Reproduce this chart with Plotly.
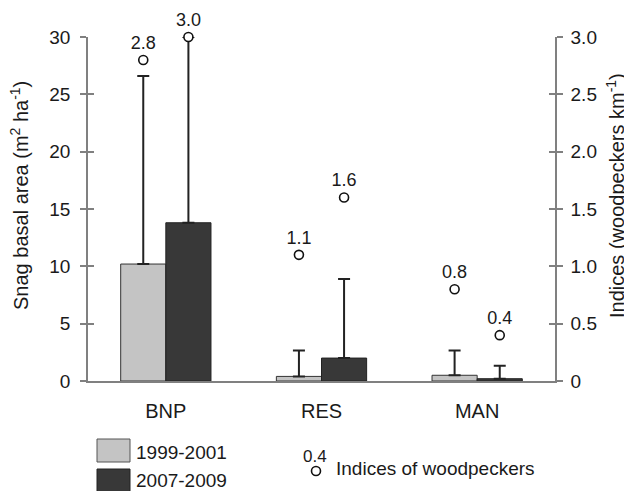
import plotly.graph_objects as go

categories = ["BNP", "RES", "MAN"]
periods = ["1999-2001", "2007-2009"]
snag_1999 = [10.2, 0.4, 0.5]
snag_2007 = [13.8, 2.0, 0.2]
snag_err_1999 = [16.4, 2.25, 2.15]
snag_err_2007 = [16.2, 6.9, 1.13]
wood_1999 = [2.8, 1.1, 0.8]
wood_2007 = [3.0, 1.6, 0.4]
left_ticks = [0, 5, 10, 15, 20, 25, 30]
right_ticks = [0, 0.5, 1.0, 1.5, 2.0, 2.5, 3.0]
right_ticktext = ["0", "0.5", "1.0", "1.5", "2.0", "2.5", "3.0"]

LIGHT = "#c4c4c4"
DARK = "#383838"
AX = "#808080"
TXT = "#1a1a1a"
FONT = "Liberation Sans, Arial, sans-serif"
BW = 0.29
PAGE_OFF = 8  # default body margin of the html page

idx = list(range(len(categories)))
fig = go.Figure()

fig.add_trace(go.Bar(
    x=idx, y=snag_1999, width=BW, offset=-BW, name=periods[0],
    marker=dict(color=LIGHT, line=dict(color="#333", width=1)),
    error_y=dict(type="data", symmetric=False, array=snag_err_1999,
                 arrayminus=[0] * 3, color="#222", thickness=2, width=6),
    showlegend=False))
fig.add_trace(go.Bar(
    x=idx, y=snag_2007, width=BW, offset=0, name=periods[1],
    marker=dict(color=DARK, line=dict(color="#222", width=1)),
    error_y=dict(type="data", symmetric=False, array=snag_err_2007,
                 arrayminus=[0] * 3, color="#222", thickness=2, width=6),
    showlegend=False))

for vals, sign in ((wood_1999, -1), (wood_2007, 1)):
    fig.add_trace(go.Scatter(
        x=[i + sign * BW / 2 for i in idx], y=vals, yaxis="y2",
        mode="markers+text", text=[f"{v:.1f}" for v in vals],
        textposition="top center", textfont=dict(size=18, color=TXT, family=FONT),
        marker=dict(symbol="circle", size=9, color="white",
                    line=dict(color="#111", width=1.6)),
        cliponaxis=False, showlegend=False, hoverinfo="skip"))

# helper traces for inner tick halves
fig.add_trace(go.Scatter(x=[None], y=[None], yaxis="y3", showlegend=False, hoverinfo="skip"))
fig.add_trace(go.Scatter(x=[None], y=[None], yaxis="y4", showlegend=False, hoverinfo="skip"))

fig.update_layout(
    width=632 - PAGE_OFF, height=491 - PAGE_OFF,
    margin=dict(l=88 - PAGE_OFF, r=77, t=37 - PAGE_OFF, b=110),
    paper_bgcolor="white", plot_bgcolor="white",
    font=dict(family=FONT, size=19, color=TXT),
    barmode="overlay",
    xaxis=dict(range=[-0.5, 2.5], tickvals=idx, ticktext=categories,
               showline=True, linecolor=AX, linewidth=1.5, ticks="",
               showgrid=False, zeroline=False, ticklabelstandoff=11,
               tickfont=dict(size=20, color=TXT)),
    yaxis=dict(range=[0, 30], tickvals=left_ticks, showline=True, linecolor=AX,
               linewidth=1.5, ticks="outside", ticklen=6, tickcolor=AX, tickwidth=1.5,
               ticklabelstandoff=6,
               showgrid=False, zeroline=False, tickfont=dict(size=19, color=TXT)),
    yaxis2=dict(range=[0, 3], tickvals=right_ticks, ticktext=right_ticktext,
                overlaying="y", side="right", showline=True, linecolor=AX,
                linewidth=1.5, ticks="outside", ticklen=6, tickcolor=AX, tickwidth=1.5,
                ticklabelstandoff=4,
                showgrid=False, zeroline=False, tickfont=dict(size=19, color=TXT)),
    yaxis3=dict(range=[0, 30], tickvals=left_ticks, overlaying="y", side="left",
                showline=False, ticks="inside", ticklen=6, tickcolor=AX, tickwidth=1.5,
                showticklabels=False, showgrid=False, zeroline=False),
    yaxis4=dict(range=[0, 3], tickvals=right_ticks, overlaying="y", side="right",
                showline=False, ticks="inside", ticklen=6, tickcolor=AX, tickwidth=1.5,
                showticklabels=False, showgrid=False, zeroline=False),
)

def px_x(p):
    return (p - 88) / 467

def px_y(p):
    return (381 - p) / 344

ann = [
    dict(text="Snag basal area (m<sup>2</sup> ha<sup>-1</sup>)", x=px_x(19), y=px_y(196),
         textangle=-90, font=dict(size=20)),
    dict(text="Indices (woodpeckers km<sup>-1</sup>)", x=px_x(615), y=px_y(196),
         textangle=-90, font=dict(size=20)),
    dict(text=periods[0], x=px_x(134), y=px_y(452), xanchor="left", font=dict(size=19)),
    dict(text=periods[1], x=px_x(134), y=px_y(480), xanchor="left", font=dict(size=19)),
    dict(text="0.4", x=px_x(315), y=px_y(456), font=dict(size=17)),
    dict(text="Indices of woodpeckers", x=px_x(334), y=px_y(468), xanchor="left",
         font=dict(size=19)),
]
for a in ann:
    a.setdefault("xanchor", "center")
    fig.add_annotation(xref="paper", yref="paper", showarrow=False, yanchor="middle", **a)

fig.add_shape(type="rect", xref="paper", yref="paper", x0=px_x(97), x1=px_x(130),
              y0=px_y(462), y1=px_y(439), fillcolor=LIGHT, line=dict(color="#555", width=1))
fig.add_shape(type="rect", xref="paper", yref="paper", x0=px_x(97), x1=px_x(130),
              y0=px_y(492), y1=px_y(469), fillcolor=DARK, line=dict(color="#222", width=1))
fig.add_shape(type="circle", xref="paper", yref="paper", xsizemode="pixel", ysizemode="pixel",
              xanchor=px_x(316), yanchor=px_y(471), x0=-4.5, x1=4.5, y0=-4.5, y1=4.5,
              fillcolor="white", line=dict(color="#111", width=1.6))

fig.write_html("out.html")
